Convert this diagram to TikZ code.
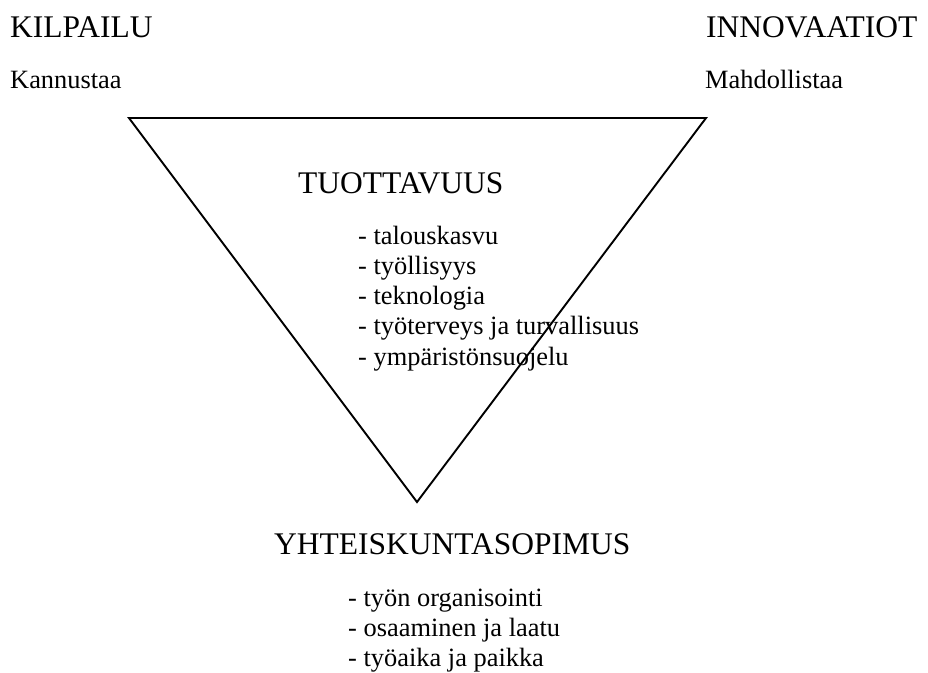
\documentclass[tikz,border=0pt]{standalone}
\usepackage{fontspec}
\setmainfont{Liberation Serif}
\begin{document}
\begin{tikzpicture}[x=1pt,y=-1pt,
  heading/.style={anchor=base west,inner sep=0pt,font=\fontsize{31.5}{36}\selectfont},
  itemtext/.style={anchor=base west,inner sep=0pt,font=\fontsize{26.4}{30}\selectfont},
  edge/.style={line width=1.9pt,line join=miter}]
  \useasboundingbox (0,0) rectangle (928,672);

  % corner headings
  \node[heading] (kilpailu) at (10,37) {KILPAILU};
  \node[itemtext] (kannustaa) at (10,88) {Kannustaa};
  \node[heading] (innovaatiot) at (706,37) {INNOVAATIOT};
  \node[itemtext] (mahdollistaa) at (705,88) {Mahdollistaa};

  % inverted triangle
  \coordinate (tl) at (129,118);
  \coordinate (tr) at (706,118);
  \coordinate (apex) at (417,502);
  \draw[edge] (tl) -- (tr) -- (apex) -- cycle;

  % productivity block
  \node[heading] (tuottavuus) at (298,193) {TUOTTAVUUS};
  \node[itemtext] (t1) at (358,244) {- talouskasvu};
  \node[itemtext] (t2) at (358,274.3) {- työllisyys};
  \node[itemtext] (t3) at (358,304.6) {- teknologia};
  \node[itemtext] (t4) at (358,334.9) {- työterveys ja turvallisuus};
  \node[itemtext] (t5) at (358,365.2) {- ympäristönsuojelu};

  % social contract block
  \node[heading] (yhteis) at (274,554) {YHTEISKUNTASOPIMUS};
  \node[itemtext] (y1) at (348,606) {- työn organisointi};
  \node[itemtext] (y2) at (348,636.3) {- osaaminen ja laatu};
  \node[itemtext] (y3) at (348,666.6) {- työaika ja paikka};
\end{tikzpicture}
\end{document}
